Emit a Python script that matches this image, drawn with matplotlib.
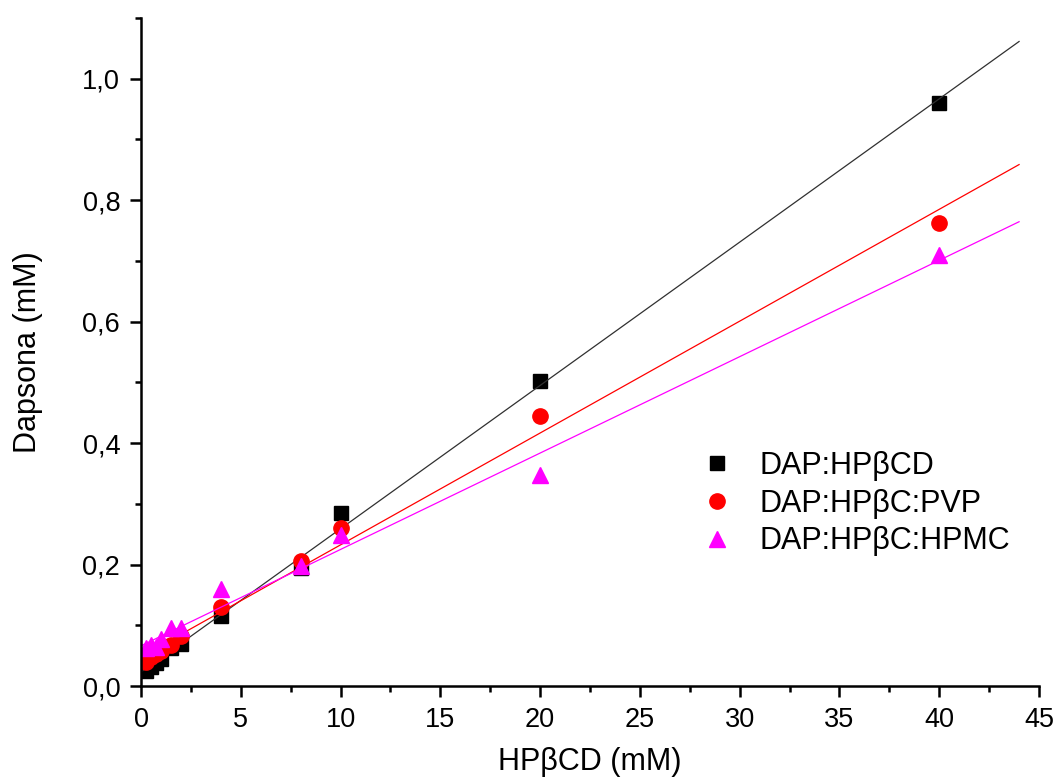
import numpy as np
import matplotlib
matplotlib.use("Agg")
import matplotlib.pyplot as plt
from matplotlib.ticker import MultipleLocator, FuncFormatter

plt.rcParams['font.family'] = ['Liberation Sans', 'DejaVu Sans']

# data
conc = [0.25, 0.5, 0.75, 1.0, 1.5, 2.0, 4, 8, 10, 20, 40]
dap_hpbcd = [0.025, 0.032, 0.038, 0.045, 0.062, 0.070, 0.115, 0.195, 0.285, 0.503, 0.960]
dap_pvp = [0.040, 0.048, 0.052, 0.058, 0.068, 0.083, 0.130, 0.206, 0.260, 0.445, 0.762]
dap_hpmc = [0.062, 0.068, 0.064, 0.078, 0.095, 0.095, 0.160, 0.198, 0.248, 0.347, 0.710]
labels = ['DAP:HPβCD', 'DAP:HPβC:PVP', 'DAP:HPβC:HPMC']

fig = plt.figure(figsize=(10.54, 7.81), dpi=100)
ax = fig.add_axes([0.1338, 0.1216, 0.852, 0.8554])

series = [
    (dap_hpbcd, 'black', 's', 10.5, '#303030'),
    (dap_pvp, 'red', 'o', 11, 'red'),
    (dap_hpmc, 'magenta', '^', 12, 'magenta'),
]
xfit = np.array([0, 44])
for (y, col, mk, ms, lc), lab in zip(series, labels):
    ax.plot(conc, y, linestyle='none', marker=mk, color=col, markersize=ms, label=lab)
    m, b = np.polyfit(conc, y, 1)
    ax.plot(xfit, m * xfit + b, color=lc, linewidth=0.9)

ax.set_xlim(0, 45)
ax.set_ylim(0, 1.1)
ax.xaxis.set_major_locator(MultipleLocator(5))
ax.xaxis.set_minor_locator(MultipleLocator(2.5))
ax.yaxis.set_major_locator(MultipleLocator(0.2))
ax.yaxis.set_minor_locator(MultipleLocator(0.1))
ax.yaxis.set_major_formatter(FuncFormatter(lambda v, p: f"{v:.1f}".replace('.', ',')))

for s in ['top', 'right']:
    ax.spines[s].set_visible(False)
for s in ['left', 'bottom']:
    ax.spines[s].set_linewidth(1.8)
ax.tick_params(which='major', direction='out', length=8, width=1.8, labelsize=19.5, pad=7)
ax.tick_params(which='minor', direction='out', length=4, width=1.8)

ax.set_xlabel('HPβCD (mM)', fontsize=22, labelpad=10)
ax.set_ylabel('Dapsona (mM)', fontsize=22, labelpad=28)

ax.legend(loc='upper left', bbox_to_anchor=(0.594, 0.370), frameon=False, fontsize=22,
          handletextpad=0.4, labelspacing=0.25, borderaxespad=0)

fig.savefig('out.png', dpi=100)
